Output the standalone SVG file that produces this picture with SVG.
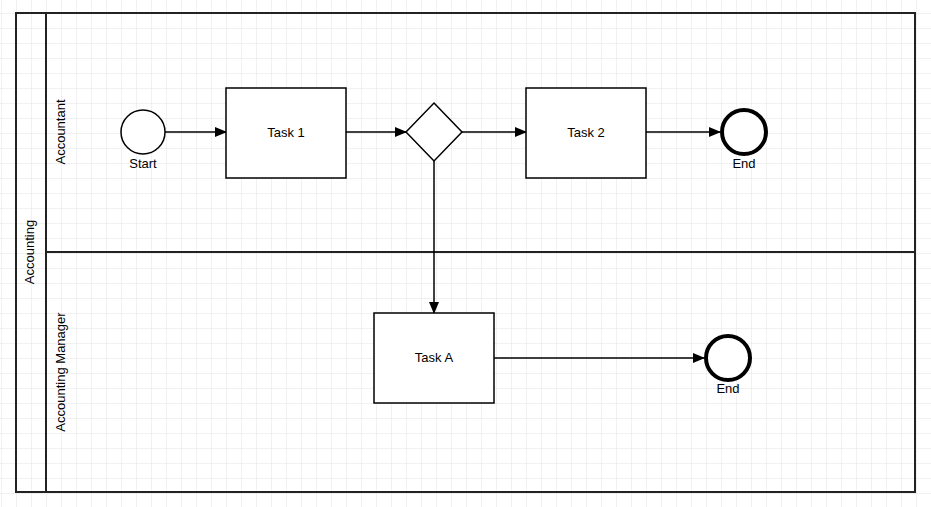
<svg xmlns="http://www.w3.org/2000/svg" width="931" height="507" viewBox="0 0 931 507">
<defs>
<pattern id="g" width="15" height="15" patternUnits="userSpaceOnUse" x="1" y="-2"><path d="M0 0H15M0 0V15" fill="none" stroke="#e4e4e4" stroke-width="1"/></pattern>
<marker id="a" markerWidth="12" markerHeight="10" refX="11" refY="5" orient="auto" markerUnits="userSpaceOnUse"><path d="M0 0L12 5L0 10z" fill="#000"/></marker>
<style>
.s{fill:#fff;stroke:#000;stroke-width:1.5}
.t{font-family:"Liberation Sans",Arial,sans-serif;font-size:13px;fill:#000;text-anchor:middle}
.c{fill:none;stroke:#000;stroke-width:1.5;marker-end:url(#a)}
</style>
</defs>
<rect width="931" height="507" fill="#fff"/>
<rect width="931" height="507" fill="url(#g)"/>
<g id="pool">
<rect x="16" y="13" width="899" height="479" fill="none" stroke="#222" stroke-width="2"/>
<line x1="46" y1="13" x2="46" y2="492" stroke="#222" stroke-width="2"/>
<line x1="46" y1="252" x2="915" y2="252" stroke="#222" stroke-width="2"/>
<text class="t" transform="translate(34,252) rotate(-90)">Accounting</text>
<text class="t" transform="translate(65,132) rotate(-90)">Accountant</text>
<text class="t" transform="translate(65,372) rotate(-90)">Accounting Manager</text>
</g>
<g id="connectors">
<line class="c" x1="165" y1="132" x2="226" y2="132"/>
<line class="c" x1="346" y1="132" x2="406" y2="132"/>
<line class="c" x1="462" y1="132" x2="526" y2="132"/>
<line class="c" x1="646" y1="132" x2="720" y2="132"/>
<line class="c" x1="434" y1="161" x2="434" y2="313"/>
<line class="c" x1="494" y1="358" x2="704" y2="358"/>
</g>
<g id="start"><circle class="s" cx="143" cy="132" r="22"/><text class="t" x="143" y="168">Start</text></g>
<g id="task1"><rect class="s" x="226" y="88" width="120" height="90"/><text class="t" x="286" y="137">Task 1</text></g>
<g id="gateway"><path class="s" d="M434 103L462 132L434 161L406 132z"/></g>
<g id="task2"><rect class="s" x="526" y="88" width="120" height="90"/><text class="t" x="586" y="137">Task 2</text></g>
<g id="end1"><circle cx="744" cy="132" r="22" fill="#fff" stroke="#000" stroke-width="4"/><text class="t" x="744" y="168">End</text></g>
<g id="taskA"><rect class="s" x="374" y="313" width="120" height="90"/><text class="t" x="434" y="362">Task A</text></g>
<g id="end2"><circle cx="728" cy="358" r="22" fill="#fff" stroke="#000" stroke-width="4"/><text class="t" x="728" y="393">End</text></g>
</svg>
